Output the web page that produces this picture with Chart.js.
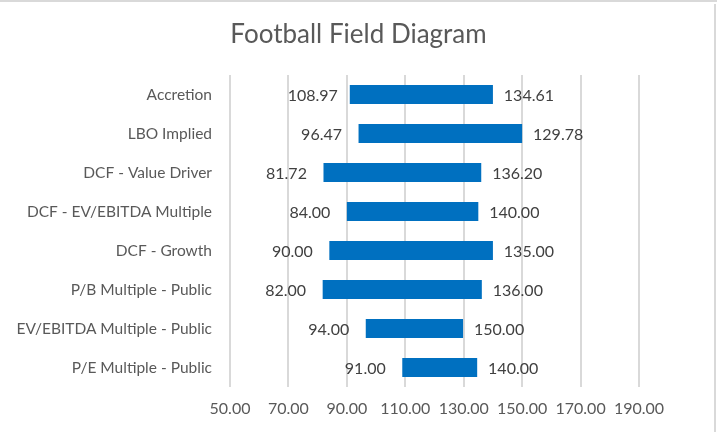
<!DOCTYPE html>
<html>
<head>
<meta charset="utf-8">
<script src="https://cdn.jsdelivr.net/npm/chart.js@4.4.1/dist/chart.umd.min.js"></script>
<style>
  html, body { margin: 0; padding: 0; background: #fff; }
  #wrap { position: relative; width: 717px; height: 432px; }
</style>
</head>
<body>
<div id="wrap"><canvas id="fieldChart"></canvas></div>
<script>
/* ==========================================================
   Football Field Diagram - valuation ranges
========================================================== */

// Categories, top to bottom as they appear
const categories = [
    "Accretion",
    "LBO Implied",
    "DCF - Value Driver",
    "DCF - EV/EBITDA Multiple",
    "DCF - Growth",
    "P/B Multiple - Public",
    "EV/EBITDA Multiple - Public",
    "P/E Multiple - Public"
];

// Low / high values as labelled in each row
const lowValues  = [108.97, 96.47, 81.72, 84.00, 90.00, 82.00, 94.00, 91.00];
const highValues = [134.61, 129.78, 136.20, 140.00, 135.00, 136.00, 150.00, 140.00];

// The source sheet plots its bars in the opposite row order to its labels
const barLows  = lowValues.slice().reverse();
const barHighs = highValues.slice().reverse();

// Value axis
const axisMin = 50;
const axisMax = 190;
const axisStep = 20;

const chartTitle = "Football Field Diagram";

const FONT = "Lato, 'Open Sans', sans-serif";
const TEXT_GREY = "#595959";

// Light frame along the top and right edge, plus the title centred on the whole picture
const framePlugin = {
    id: "frame",
    beforeDraw(chart) {
        const c = chart.ctx;
        c.save();
        c.fillStyle = "#d9d9d9";
        c.fillRect(0, 0, chart.width, 2);
        c.fillRect(chart.width - 3, 4, 2, chart.height - 4);

        c.font = "26px " + FONT;
        c.fillStyle = TEXT_GREY;
        c.textAlign = "center";
        c.textBaseline = "middle";
        c.fillText(chartTitle, chart.width / 2, 35);
        c.restore();
    }
};

// Low label left of each bar, high label right of it
const rangeLabelPlugin = {
    id: "rangeLabels",
    afterDatasetsDraw(chart) {
        const c = chart.ctx;
        const meta = chart.getDatasetMeta(0);
        c.save();
        c.font = "16px " + FONT;
        c.fillStyle = "#404040";
        c.textAlign = "center";
        c.textBaseline = "middle";
        meta.data.forEach((bar, i) => {
            const p = bar.getProps(["x", "y", "base"], true);
            c.fillText(lowValues[i].toFixed(2), p.base - 37, p.y + 1);
            c.fillText(highValues[i].toFixed(2), p.x + 36, p.y + 1);
        });
        c.restore();
    }
};

new Chart(document.getElementById("fieldChart"), {
    type: "bar",
    data: {
        labels: categories,
        datasets: [{
            label: "Range",
            data: barLows.map((lo, i) => [lo, barHighs[i]]),
            backgroundColor: "#0070c0",
            borderWidth: 0,
            barPercentage: 0.49,
            categoryPercentage: 1.0
        }]
    },
    options: {
        indexAxis: "y",
        responsive: true,
        maintainAspectRatio: false,
        animation: false,
        layout: { padding: { left: 0, right: 78, top: 75, bottom: 0 } },
        plugins: {
            legend: { display: false },
            tooltip: { enabled: false },
            title: { display: false }
        },
        scales: {
            x: {
                min: axisMin,
                max: axisMax,
                ticks: {
                    stepSize: axisStep,
                    color: TEXT_GREY,
                    font: { family: FONT, size: 16 },
                    padding: 12,
                    callback: v => Number(v).toFixed(2)
                },
                grid: { color: "#d9d9d9", lineWidth: 2, drawTicks: false },
                border: { display: false },
                afterFit: s => { s.height = 45; }
            },
            y: {
                ticks: {
                    color: TEXT_GREY,
                    font: { family: FONT, size: 15.5 },
                    padding: 10
                },
                grid: { display: false },
                border: { display: false },
                afterFit: s => { s.width = 230; }
            }
        }
    },
    plugins: [framePlugin, rangeLabelPlugin]
});
</script>
</body>
</html>
